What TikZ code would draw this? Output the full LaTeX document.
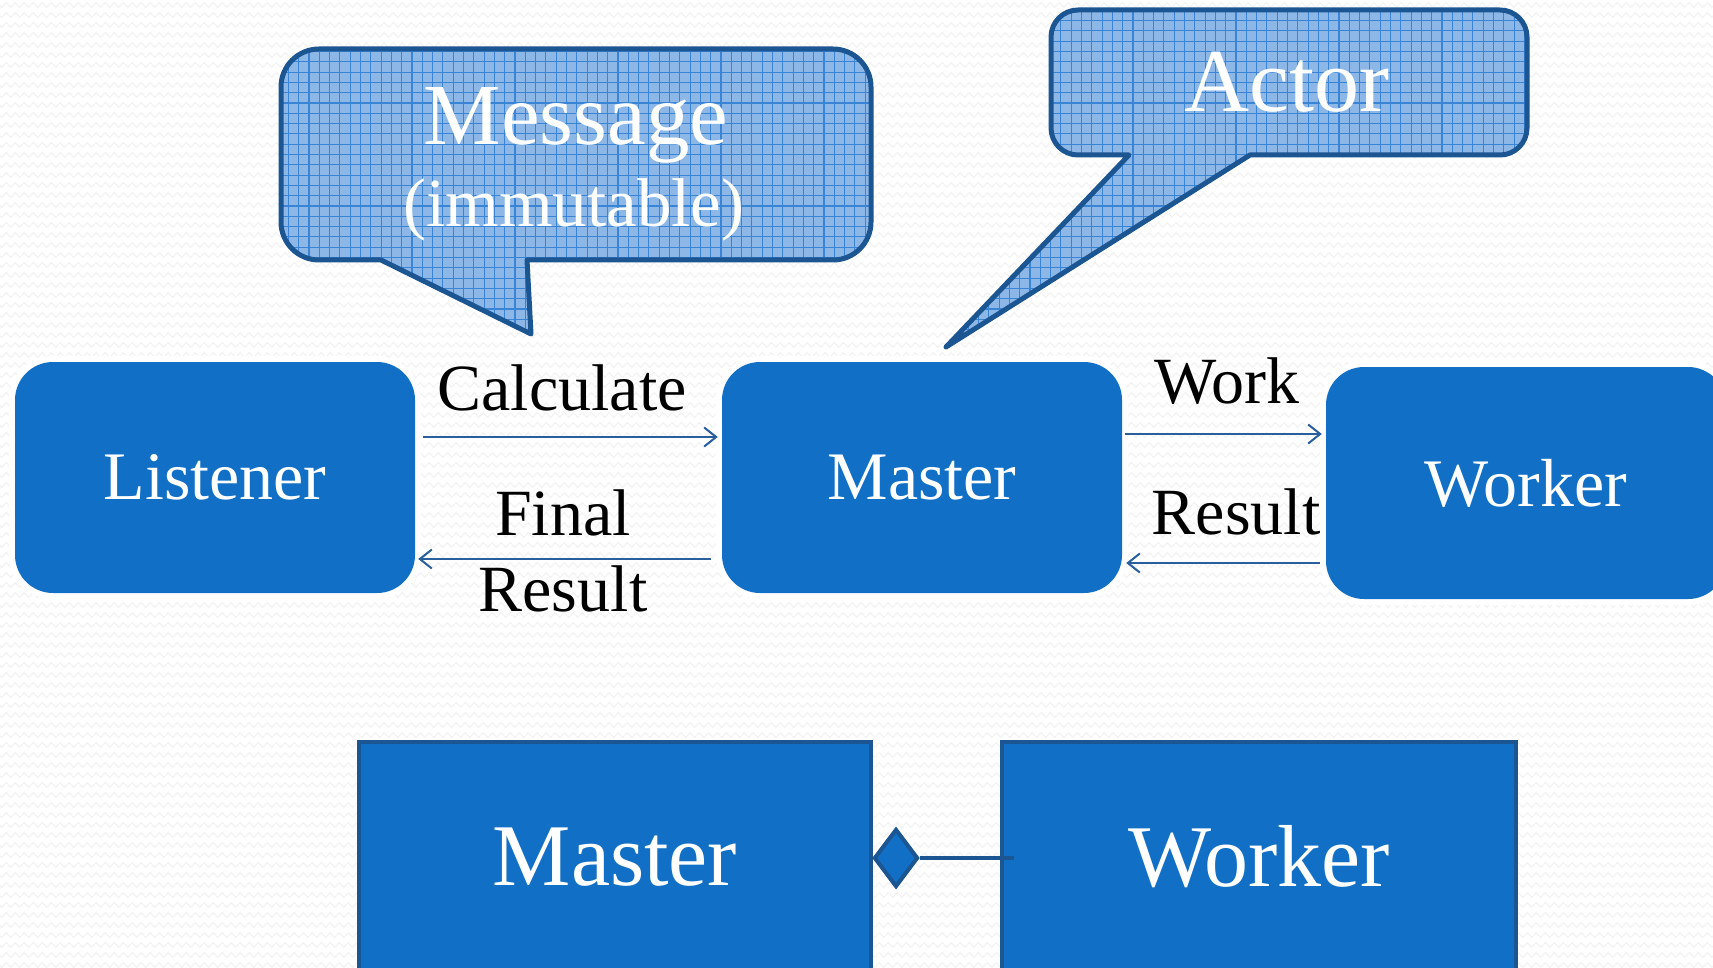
\documentclass[tikz,border=0pt]{standalone}
\usepackage{fontspec}
\setmainfont{Liberation Serif}
\usetikzlibrary{arrows.meta,calc,shapes.geometric,decorations.pathmorphing}
\definecolor{boxblue}{HTML}{1170C6}
\definecolor{edgeblue}{HTML}{1B5592}
\definecolor{arrowblue}{HTML}{2A5F9E}
\definecolor{bubblefill}{HTML}{8CB7E6}
\definecolor{gridblue}{HTML}{3A84D6}
\newcommand\msgshape{(527,260) -- (833,260) arc[start angle=90,end angle=0,radius=38] -- (871,87) arc[start angle=0,end angle=-90,radius=38] -- (319,49) arc[start angle=-90,end angle=-180,radius=38] -- (281,222) arc[start angle=180,end angle=90,radius=38] -- (381,260) -- (531,334) -- cycle}
\newcommand\actshape{(1250,155) -- (1500,155) arc[start angle=90,end angle=0,radius=27] -- (1527,37) arc[start angle=0,end angle=-90,radius=27] -- (1078,10) arc[start angle=-90,end angle=-180,radius=27] -- (1051,128) arc[start angle=180,end angle=90,radius=27] -- (1129,155) -- (946,347) -- cycle}
\tikzset{
  zz/.style={draw=black!5, line width=1pt, decorate, decoration={zigzag, segment length=9pt, amplitude=2.5pt}},
  topbox/.style={rectangle, rounded corners=38pt, fill=boxblue, minimum width=400pt, minimum height=231pt, inner sep=0pt, text=white, font=\fontsize{68}{68}\selectfont, preaction={draw=white, line width=12pt}},
  lowbox/.style={rectangle, fill=boxblue, draw=edgeblue, line width=4pt, minimum width=512pt, minimum height=230pt, inner sep=0pt, text=white, font=\fontsize{88}{88}\selectfont},
  lbl/.style={anchor=base, inner sep=0pt, text=black, font=\fontsize{66}{66}\selectfont},
  bubtext/.style={anchor=base, inner sep=0pt, text=white},
  msg/.style={draw=arrowblue, line width=2pt, -{Straight Barb[length=12pt,width=19pt]}},
  bubfill/.style={fill=bubblefill},
  bubedge/.style={draw=edgeblue, line width=5pt, line join=round},
  gridlines/.style={draw=gridblue, line width=1.1pt},
  diam/.style={diamond, fill=boxblue, draw=edgeblue, line width=4pt, minimum width=44pt, minimum height=58pt, inner sep=0pt},
  connline/.style={draw=edgeblue, line width=4pt}
}
\begin{document}
\begin{tikzpicture}[x=1pt,y=-1pt]
\useasboundingbox (0,0) rectangle (1713,968);
\clip (0,0) rectangle (1713,968);
\fill[white] (0,0) rectangle (1713,968);
\foreach \yy in {5,15,...,965} \draw[zz] (-5,\yy) -- (1720,\yy);

% speech bubbles
\fill[bubfill] \msgshape;
\begin{scope}
  \clip \msgshape;
  \draw[gridlines, step=10.3pt] (270,40) grid (880,340);
\end{scope}
\draw[bubedge] \msgshape;
\node[bubtext, font=\fontsize{87}{87}\selectfont] (msgtitle) at (576,145) {Message};
\node[bubtext, font=\fontsize{69}{69}\selectfont] (msgsub) at (574,227) {(immutable)};

\fill[bubfill] \actshape;
\begin{scope}
  \clip \actshape;
  \draw[gridlines, step=10.3pt] (940,0) grid (1540,350);
\end{scope}
\draw[bubedge] \actshape;
\node[bubtext, font=\fontsize{90}{90}\selectfont] (acttitle) at (1287,112) {Actor};

% top boxes
\node[topbox] (listener) at (215,477.5) {Listener};
\node[topbox] (master) at (922,477.5) {Master};
\node[topbox, minimum height=232pt] (worker) at (1526,483) {Worker};

% messages
\draw[msg] ($(listener.east)+(8,-40.5)$) -- ($(master.west)+(-4,-40.5)$);
\draw[msg] ($(master.west)+(-11,81.5)$) -- ($(listener.east)+(3,81.5)$);
\draw[msg] ($(master.east)+(3,-43.5)$) -- ($(worker.west)+(-4,-49)$);
\draw[msg] ($(worker.west)+(-6,80)$) -- ($(master.east)+(4,85.5)$);

\node[lbl] (calc) at (562,410) {Calculate};
\node[lbl] (final) at (563,535) {Final};
\node[lbl] (fres) at (563,611) {Result};
\node[lbl] (work) at (1227,403) {Work};
\node[lbl] (res) at (1236,534) {Result};

% bottom boxes
\node[lowbox] (master2) at (615,857) {Master};
\node[lowbox, minimum width=514pt] (worker2) at (1259,857) {Worker};
\node[diam, anchor=west] (dia) at ($(master2.east)+(-1,1)$) {};
\draw[connline] (dia.east) -- ($(worker2.west)+(14,1)$);
\end{tikzpicture}
\end{document}
